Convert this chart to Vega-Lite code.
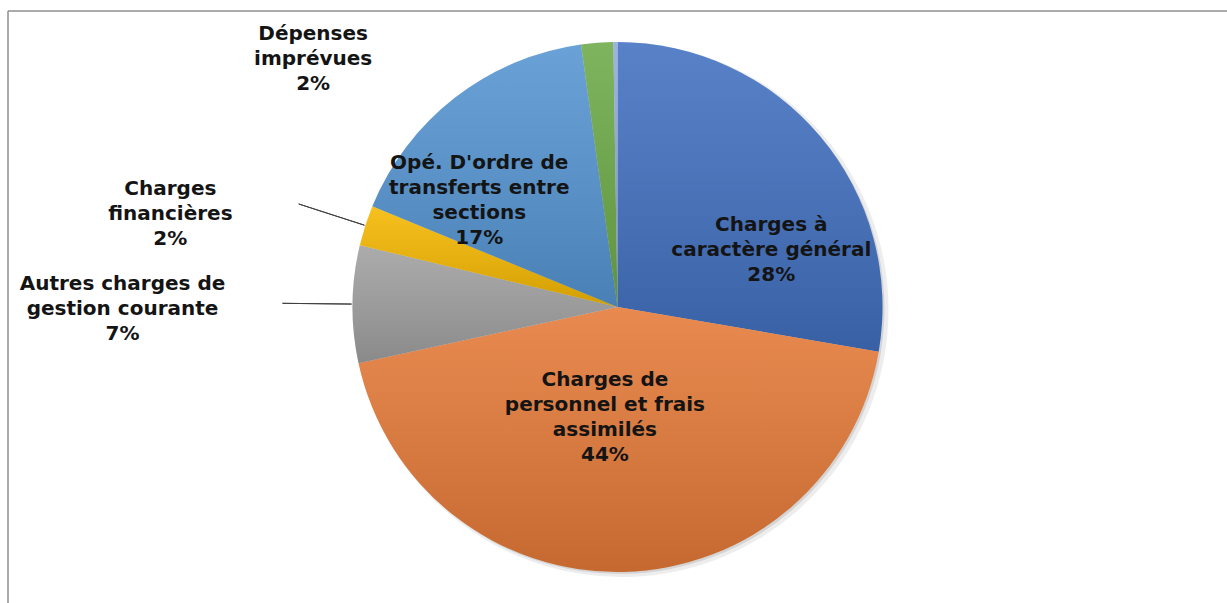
{
  "$schema": "https://vega.github.io/schema/vega-lite/v6.json",
  "width": 1219,
  "height": 592,
  "autosize": {"type": "none"},
  "padding": {"left": 8, "top": 11, "right": 0, "bottom": 0},
  "background": "white",
  "config": {"view": {"stroke": null}},
  "data": {"values": [
    {"cat": "Charges à caractère général", "value": 27.7, "idx": 1, "label": "Charges à\ncaractère général\n28%"},
    {"cat": "Charges de personnel et frais assimilés", "value": 43.9, "idx": 2, "label": "Charges de\npersonnel et frais\nassimilés\n44%"},
    {"cat": "Autres charges de gestion courante", "value": 7.15, "idx": 3, "label": "Autres charges de\ngestion courante\n7%"},
    {"cat": "Charges financières", "value": 2.45, "idx": 4, "label": "Charges\nfinancières\n2%"},
    {"cat": "Opé. D'ordre de transferts entre sections", "value": 16.6, "idx": 5, "label": "Opé. D'ordre de\ntransferts entre\nsections\n17%"},
    {"cat": "Dépenses imprévues", "value": 1.95, "idx": 6, "label": "Dépenses\nimprévues\n2%"},
    {"cat": "Autres", "value": 0.25, "idx": 7, "label": ""}
  ]},
  "encoding": {
    "theta": {"field": "value", "type": "quantitative", "stack": true},
    "order": {"field": "idx", "type": "quantitative"},
    "detail": {"field": "cat", "type": "nominal"}
  },
  "layer": [
    {
      "data": {"values": [{"frame": 1}]},
      "mark": {"type": "rule", "stroke": "#8f8f8f", "strokeWidth": 1.5},
      "encoding": {"theta": null, "order": null, "detail": null, "y": {"value": 0}}
    },
    {
      "data": {"values": [{"frame": 1}]},
      "mark": {"type": "rule", "stroke": "#8f8f8f", "strokeWidth": 1.5},
      "encoding": {"theta": null, "order": null, "detail": null, "x": {"value": 0}}
    },
    {
      "mark": {"type": "arc", "radius": 267, "xOffset": 4, "yOffset": 3, "fill": "#000000", "fillOpacity": 0.07}
    },
    {
      "mark": {"type": "arc", "radius": 265, "xOffset": 2, "yOffset": 2, "fill": "#000000", "fillOpacity": 0.1}
    },
    {
      "mark": {"type": "arc", "radius": 265},
      "encoding": {
        "color": {
          "field": "cat", "type": "nominal", "legend": null,
          "scale": {
            "domain": ["Charges à caractère général", "Charges de personnel et frais assimilés", "Autres charges de gestion courante", "Charges financières", "Opé. D'ordre de transferts entre sections", "Dépenses imprévues", "Autres"],
            "range": ["#4170C0", "#E57A38", "#A0A0A0", "#F5B800", "#5595D2", "#6DAA48", "#8FAADC"]
          }
        }
      }
    },
    {
      "mark": {"type": "arc", "radius": 265,
        "fill": {"gradient": "linear", "x1": 0, "y1": 0, "x2": 0, "y2": 1,
          "stops": [{"offset": 0, "color": "rgba(255,255,255,0.12)"}, {"offset": 1, "color": "rgba(0,0,0,0.14)"}]}
      }
    },
    {
      "mark": {"type": "arc", "radius": 335, "radius2": 266, "padAngle": 0.4, "filled": false, "stroke": "#404040", "strokeWidth": 1},
      "encoding": {
        "strokeOpacity": {"condition": {"test": "datum.idx === 3 || datum.idx === 4", "value": 1}, "value": 0}
      }
    },
    {
      "mark": {"type": "text", "radius": 175, "dx": 20, "dy": 31, "font": "DejaVu Sans", "fontWeight": "bold", "fontSize": 20, "lineHeight": 25, "lineBreak": "\n", "align": "center", "baseline": "middle", "color": "#141414"},
      "encoding": {"text": {"condition": {"test": "datum.idx === 1", "field": "label"}, "value": ""}}
    },
    {
      "mark": {"type": "text", "radius": 110, "dx": -15, "dy": -37, "font": "DejaVu Sans", "fontWeight": "bold", "fontSize": 20, "lineHeight": 25, "lineBreak": "\n", "align": "center", "baseline": "middle", "color": "#141414"},
      "encoding": {"text": {"condition": {"test": "datum.idx === 2", "field": "label"}, "value": ""}}
    },
    {
      "mark": {"type": "text", "radius": 265, "dx": -230, "dy": -20, "font": "DejaVu Sans", "fontWeight": "bold", "fontSize": 20, "lineHeight": 25, "lineBreak": "\n", "align": "center", "baseline": "middle", "color": "#141414"},
      "encoding": {"text": {"condition": {"test": "datum.idx === 3", "field": "label"}, "value": ""}}
    },
    {
      "mark": {"type": "text", "radius": 265, "dx": -195, "dy": -37, "font": "DejaVu Sans", "fontWeight": "bold", "fontSize": 20, "lineHeight": 25, "lineBreak": "\n", "align": "center", "baseline": "middle", "color": "#141414"},
      "encoding": {"text": {"condition": {"test": "datum.idx === 4", "field": "label"}, "value": ""}}
    },
    {
      "mark": {"type": "text", "radius": 175, "dx": -31, "dy": -6, "font": "DejaVu Sans", "fontWeight": "bold", "fontSize": 20, "lineHeight": 25, "lineBreak": "\n", "align": "center", "baseline": "middle", "color": "#141414"},
      "encoding": {"text": {"condition": {"test": "datum.idx === 5", "field": "label"}, "value": ""}}
    },
    {
      "mark": {"type": "text", "radius": 265, "dx": -284, "dy": -9, "font": "DejaVu Sans", "fontWeight": "bold", "fontSize": 20, "lineHeight": 25, "lineBreak": "\n", "align": "center", "baseline": "middle", "color": "#141414"},
      "encoding": {"text": {"condition": {"test": "datum.idx === 6", "field": "label"}, "value": ""}}
    }
  ]
}
